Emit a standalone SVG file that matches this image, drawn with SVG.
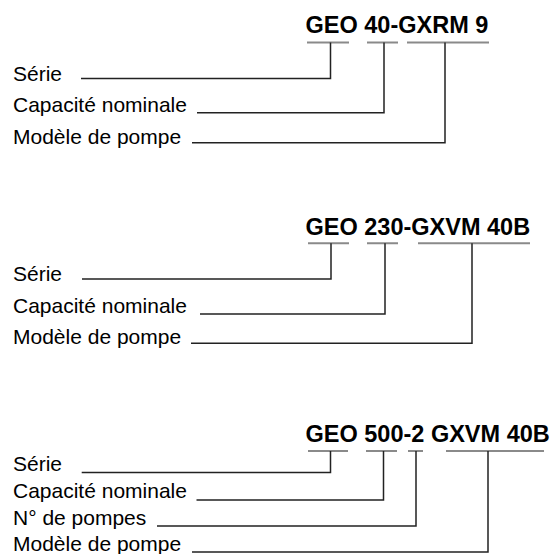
<svg xmlns="http://www.w3.org/2000/svg" width="551" height="554" viewBox="0 0 551 554">
<style>
.t{font-family:"Liberation Sans",Arial,sans-serif;font-weight:bold;font-size:23.5px;fill:#000}
.l{font-family:"Liberation Sans",Arial,sans-serif;font-size:21px;fill:#000}
.bar{stroke:#8a8a8a;stroke-width:2;fill:none}
.c{stroke:#222;stroke-width:1.5;fill:none}
</style>
<rect width="551" height="554" fill="#fff"/>
<g id="block1">
<g id="title1"><text class="t" x="305.5" y="33.3">GEO 40-GXRM 9</text>
<path class="bar" d="M307 42.5H349M367 42.5H398M407 42.5H489"/></g>
<g id="serie1"><text class="l" x="13" y="81">Série</text></g>
<g id="capacite1"><text class="l" x="13" y="112.3">Capacité nominale</text></g>
<g id="modele1"><text class="l" x="13" y="144">Modèle de pompe</text></g>
</g>
<g id="block2">
<g id="title2"><text class="t" x="305.5" y="234.5">GEO 230-GXVM 40B</text>
<path class="bar" d="M308 243.3H349M367 243.3H398M418 243.3H530"/></g>
<g id="serie2"><text class="l" x="13" y="281">Série</text></g>
<g id="capacite2"><text class="l" x="13" y="312.7">Capacité nominale</text></g>
<g id="modele2"><text class="l" x="13" y="344">Modèle de pompe</text></g>
</g>
<g id="block3">
<g id="title3"><text class="t" x="305.5" y="441.7">GEO 500-2 GXVM 40B</text>
<path class="bar" d="M308 451H348M366 451H397M408 451H423M446 451H544"/></g>
<g id="serie3"><text class="l" x="13" y="471">Série</text></g>
<g id="capacite3"><text class="l" x="13" y="498">Capacité nominale</text></g>
<g id="pompes3"><text class="l" x="13" y="524.5">N° de pompes</text></g>
<g id="modele3"><text class="l" x="13" y="551">Modèle de pompe</text></g>
</g>
<g id="connectors">
<path class="c" d="M81 78.5H330.5V42.5"/>
<path class="c" d="M197 112.7H384V42.5"/>
<path class="c" d="M192 142.7H445V42.5"/>
<path class="c" d="M82 279H331V243.3"/>
<path class="c" d="M200 314H385V243.3"/>
<path class="c" d="M191 343.3H472V243.3"/>
<path class="c" d="M81.7 472.5H330.5V451"/>
<path class="c" d="M196.5 500H383.5V451"/>
<path class="c" d="M157 526H416V451"/>
<path class="c" d="M192 552H488V451"/>
</g>
</svg>
